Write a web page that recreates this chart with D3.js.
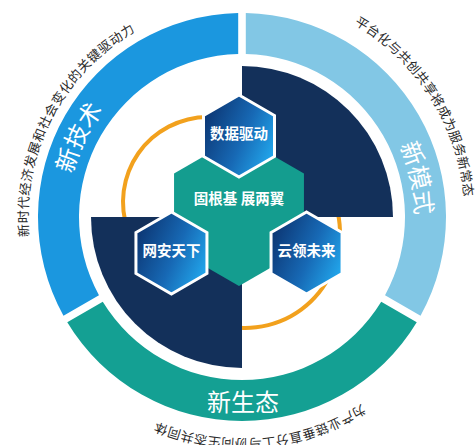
<!DOCTYPE html>
<html><head><meta charset="utf-8">
<script src="https://cdn.jsdelivr.net/npm/d3@7"></script>
<style>html,body{margin:0;padding:0;background:#fff;} svg{display:block;}</style>
</head><body>
<svg id="chart" width="475" height="445"></svg>
<script>
// ---- data ----
const ringLabels = ["新技术", "新模式", "新生态"];
const ringValues = [1, 1, 1];
const ringNotes = ["新时代经济发展和社会变化的关键驱动力", "平台化与共创共享将成为服务新常态", "为产业链垂直分工与协同生态共同体"];
const ringColors = ["#1b97df", "#82c7e5", "#14a093"];
const quadrantValues = [1, 1, 1, 1];
const quadrantFilled = [true, false, true, false];
const hubLabel = "固根基 展两翼";
const pillarLabels = ["数据驱动", "云领未来", "网安天下"];

// ---- layout ----
const FONT = "'Noto Sans CJK SC','Noto Sans',sans-serif";
const cx = 242, cy = 217;
const deg = d => d * Math.PI / 180;
const polar = (r, a) => [r * Math.sin(deg(a)), -r * Math.cos(deg(a))];

const svg = d3.select("#chart");
svg.append("rect").attr("width", 475).attr("height", 445).attr("fill", "#fff");
const defs = svg.append("defs");
const grad = defs.append("linearGradient").attr("id", "hexGrad")
  .attr("x1", "0").attr("y1", "0.25").attr("x2", "1").attr("y2", "0.75");
grad.append("stop").attr("offset", "0").attr("stop-color", "#0c3572");
grad.append("stop").attr("offset", "0.55").attr("stop-color", "#1769b5");
grad.append("stop").attr("offset", "1").attr("stop-color", "#22a9ee");

const g = svg.append("g").attr("transform", `translate(${cx},${cy})`);

// outer ring
const ringPie = d3.pie().sort(null).startAngle(-2 * Math.PI / 3).endAngle(4 * Math.PI / 3);
const ringArc = d3.arc().innerRadius(163).outerRadius(204).padAngle(0.04).padRadius(190);
g.selectAll("path.ring").data(ringPie(ringValues)).join("path")
  .attr("class", "ring").attr("d", ringArc).attr("fill", (d, i) => ringColors[i]);

// orange arcs
const orange = [
  { dx: -34, dy: -15, r: 85, a0: 250, a1: 360 },
  { dx: 3, dy: 16, r: 95, a0: 70, a1: 188 }
];
const thinArc = d3.arc();
g.selectAll("path.orange").data(orange).join("path")
  .attr("class", "orange")
  .attr("transform", d => `translate(${d.dx},${d.dy})`)
  .attr("d", d => thinArc({ innerRadius: d.r - 2, outerRadius: d.r + 2, startAngle: deg(d.a0), endAngle: deg(d.a1) }))
  .attr("fill", "#f2a11d");

// navy quadrants
const quadPie = d3.pie().sort(null);
const quadArc = d3.arc().innerRadius(0).outerRadius(151);
g.selectAll("path.quad").data(quadPie(quadrantValues).filter((d, i) => quadrantFilled[i])).join("path")
  .attr("class", "quad").attr("d", quadArc).attr("fill", "#13305a");

// hexagons
const hexLine = d3.line();
const hexPoints = (R) => d3.range(6).map(i => polar(R, i * 60));

const hub = g.append("g").attr("transform", "translate(-3,-6)");
hub.append("path").attr("d", hexLine(hexPoints(75)) + "Z").attr("fill", "#149d8f");
hub.append("text").attr("x", 0).attr("y", -7).attr("text-anchor", "middle")
  .attr("font-family", FONT).attr("font-weight", "bold").attr("font-size", 14.5)
  .attr("fill", "#fff").text(hubLabel);

const pillars = g.selectAll("g.pillar").data(pillarLabels).join("g")
  .attr("class", "pillar")
  .attr("transform", (d, i) => { const p = polar(78, i * 120); return `translate(${p[0] - 3},${p[1] - 3})`; });
pillars.append("path").attr("d", hexLine(hexPoints(41)) + "Z")
  .attr("fill", "url(#hexGrad)").attr("stroke", "#fff").attr("stroke-width", 3);
pillars.append("text").attr("x", 0).attr("y", 3).attr("text-anchor", "middle")
  .attr("font-family", FONT).attr("font-weight", "bold").attr("font-size", 14.5)
  .attr("fill", "#fff").text(d => d);

// text on arcs
function arcPath(r, a0, a1) {
  const p0 = polar(r, a0), p1 = polar(r, a1);
  return `M${p0[0]},${p0[1]} A${r},${r} 0 0 1 ${p1[0]},${p1[1]}`;
}
const arcTexts = [
  { id: "t0", r: 175, a: -64, text: ringLabels[0], size: 24, color: "#fff", ls: 0 },
  { id: "t1", r: 173, a: 77.5, text: ringLabels[1], size: 24, color: "#fff", ls: 0 },
  { id: "n0", r: 214, a: -62.5, text: ringNotes[0], size: 13, color: "#2a2a2a", ls: 0.6 },
  { id: "n1", r: 223, a: 57.5, text: ringNotes[1], size: 13, color: "#2a2a2a", ls: 0.3 },
  { id: "n2", r: 222, a: 175, text: ringNotes[2], size: 13, color: "#2a2a2a", ls: 0.4 }
];
g.selectAll("path.tp").data(arcTexts).join("path").attr("class", "tp")
  .attr("id", d => d.id).attr("fill", "none")
  .attr("d", d => arcPath(d.r, d.a - 70, d.a + 70));
g.selectAll("text.arcText").data(arcTexts).join("text").attr("class", "arcText")
  .attr("font-family", FONT).attr("font-size", d => d.size).attr("fill", d => d.color)
  .attr("letter-spacing", d => d.ls)
  .append("textPath").attr("href", d => "#" + d.id)
  .attr("startOffset", "50%").attr("text-anchor", "middle").text(d => d.text);

// bottom ring label (upright)
g.append("text").attr("x", 1).attr("y", 194).attr("text-anchor", "middle")
  .attr("font-family", FONT).attr("font-size", 24).attr("fill", "#fff").text(ringLabels[2]);
</script>
</body></html>
